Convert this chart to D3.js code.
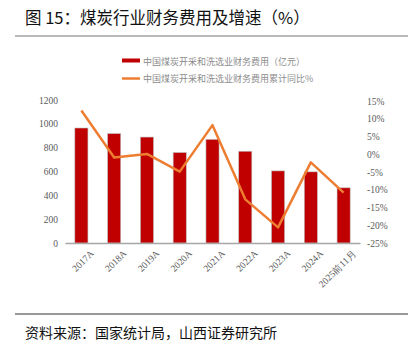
<!DOCTYPE html>
<html lang="zh">
<head>
<meta charset="utf-8">
<script src="https://d3js.org/d3.v7.min.js"></script>
<style>
  body { margin: 0; background: #fff; }
  svg { display: block; }
</style>
</head>
<body>
<script>
// data
const categories = ["2017A", "2018A", "2019A", "2020A", "2021A", "2022A", "2023A", "2024A", "2025前11月"];
const expense = [965, 918, 889, 759, 870, 770, 605, 597, 463];      // 亿元
const growth = [12.3, -0.9, 0.1, -4.9, 8.2, -12.7, -20.6, -2.3, -10.8]; // %
const leftTicks = [0, 200, 400, 600, 800, 1000, 1200];
const rightTicks = [-25, -20, -15, -10, -5, 0, 5, 10, 15];

const W = 416, H = 351;
const svg = d3.select("body").append("svg").attr("width", W).attr("height", H);

const cjk = "'Noto Sans CJK SC', sans-serif";
const serif = "'Liberation Serif', 'DejaVu Serif', serif";

// title
svg.append("text").attr("x", 25).attr("y", 24)
  .style("font-family", cjk).style("font-size", "16.5px").attr("fill", "#111")
  .text("图 15：煤炭行业财务费用及增速（%）");
svg.append("line").attr("x1", 15).attr("x2", 408).attr("y1", 36).attr("y2", 36)
  .attr("stroke", "#777").attr("stroke-width", 1.2);

// scales
const x = d3.scaleBand().domain(categories).range([65, 360]).paddingInner(0.6).paddingOuter(0.3);
const yL = d3.scaleLinear().domain([0, 1200]).range([243, 100]);
const yR = d3.scaleLinear().domain([-25, 15]).range([243, 101]);

// left axis
const gL = svg.append("g").attr("transform", "translate(62,0)")
  .call(d3.axisLeft(yL).tickValues(leftTicks).tickSize(0).tickPadding(4).tickFormat(d3.format("d")));
gL.select(".domain").remove();
gL.selectAll("text").style("font-family", serif).style("font-size", "9.5px").attr("fill", "#595959");

// right axis
const gR = svg.append("g").attr("transform", "translate(364,0)")
  .call(d3.axisRight(yR).tickValues(rightTicks).tickSize(0).tickPadding(3).tickFormat(d => d + "%"));
gR.select(".domain").remove();
gR.selectAll("text").style("font-family", serif).style("font-size", "9.5px").attr("fill", "#595959");

// bars
svg.selectAll("rect.bar").data(expense).enter().append("rect")
  .attr("class", "bar")
  .attr("x", (d, i) => x(categories[i]))
  .attr("width", x.bandwidth())
  .attr("y", d => yL(d))
  .attr("height", d => yL(0) - yL(d))
  .attr("fill", "#c00000")
  .attr("stroke", "#bfbfbf").attr("stroke-width", 0.6);

// x axis
const gX = svg.append("g").attr("transform", "translate(0,243)")
  .call(d3.axisBottom(x).tickSize(0).tickPadding(6));
gX.select(".domain").attr("stroke", "#a6a6a6").attr("stroke-width", 1.5);
gX.selectAll("text")
  .style("font-family", serif).style("font-size", "9.5px").attr("fill", "#595959")
  .attr("text-anchor", "end")
  .attr("transform", "translate(4,2) rotate(-45)");

// growth line
svg.append("path").datum(growth)
  .attr("fill", "none").attr("stroke", "#ed7d31").attr("stroke-width", 2.5)
  .attr("stroke-linejoin", "round")
  .attr("d", d3.line().x((d, i) => x(categories[i]) + x.bandwidth() / 2).y(d => yR(d)));

// legend
const lg = svg.append("g");
lg.append("rect").attr("x", 122).attr("y", 58.5).attr("width", 18).attr("height", 4).attr("fill", "#c00000");
lg.append("text").attr("x", 143).attr("y", 64.5).text("中国煤炭开采和洗选业财务费用（亿元）");
lg.append("line").attr("x1", 122).attr("x2", 140).attr("y1", 78.5).attr("y2", 78.5)
  .attr("stroke", "#ed7d31").attr("stroke-width", 2.5);
lg.append("text").attr("x", 143).attr("y", 82).text("中国煤炭开采和洗选业财务费用累计同比%");
lg.selectAll("text").style("font-family", cjk).style("font-size", "9px").attr("fill", "#8c8c8c");

// source
svg.append("line").attr("x1", 15).attr("x2", 408).attr("y1", 314).attr("y2", 314)
  .attr("stroke", "#333").attr("stroke-width", 1.2);
svg.append("text").attr("x", 25).attr("y", 338)
  .style("font-family", cjk).style("font-size", "14px").attr("fill", "#111")
  .text("资料来源：国家统计局，山西证券研究所");
</script>
</body>
</html>
